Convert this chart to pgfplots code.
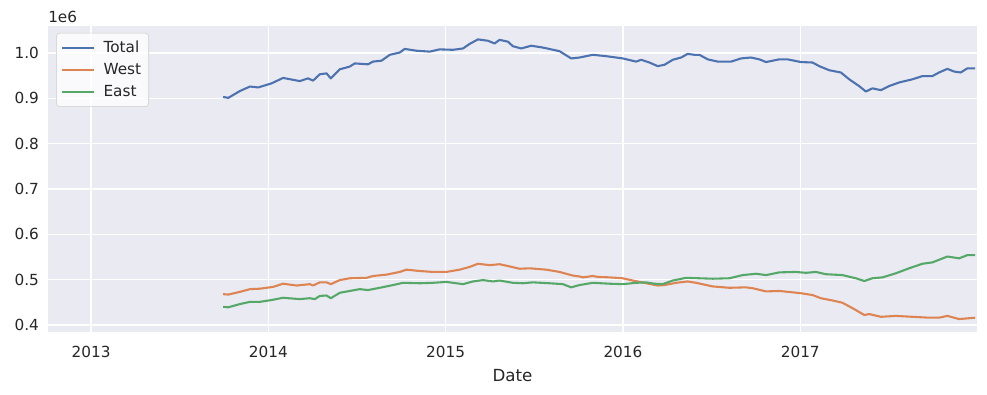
\documentclass[border=0pt]{standalone}
\usepackage{pgfplots}
\pgfplotsset{compat=1.18}
\usepackage{fontspec}
\setmainfont{DejaVu Sans}
\definecolor{sbblue}{HTML}{4C72B0}
\definecolor{sborange}{HTML}{DD8452}
\definecolor{sbgreen}{HTML}{55A868}
\definecolor{sbbg}{HTML}{EAEAF2}
\definecolor{sbtext}{HTML}{262626}
\begin{document}
\begin{tikzpicture}
\useasboundingbox (-34.56pt,-45.36pt) rectangle (676.1pt,239.0pt);
\begin{axis}[
  at={(0pt,0pt)}, anchor=south west,
  scale only axis,
  width=668.9pt, height=220.3pt,
  xmin=2012.757, xmax=2017.997,
  ymin=0.3846, ymax=1.0596,
  axis background/.style={fill=sbbg},
  axis line style={draw=none},
  major tick length=0pt,
  grid=major,
  major grid style={white, line width=1pt},
  xtick={2013,2014,2015,2016,2017},
  xticklabels={2013,2014,2015,2016,2017},
  ytick={0.4,0.5,0.6,0.7,0.8,0.9,1.0},
  yticklabels={0.4,0.5,0.6,0.7,0.8,0.9,1.0},
  /pgf/number format/assume math mode=true,
  tick label style={font=\fontsize{11}{13}\selectfont, text=sbtext},
  xticklabel style={yshift=-6.5pt},
  yticklabel style={xshift=-3pt},
  xlabel={Date},
  xlabel style={font=\fontsize{12}{14}\selectfont, text=sbtext, yshift=-2pt},
  legend cell align=left,
  legend image code/.code={\draw[#1, line width=1.5pt] (0pt,0pt) -- (23pt,0pt);},
  legend style={at={(0,1)}, anchor=north west, xshift=5.8pt, yshift=-5pt,
    fill=white, fill opacity=0.8, draw opacity=1, text opacity=1,
    draw=black!20, rounded corners=2.5pt, row sep=2.5pt, column sep=4pt, inner sep=3.5pt,
    font=\fontsize{11}{13}\selectfont, text=sbtext},
  every axis plot/.append style={line width=1.5pt, line join=round},
  clip=true,
]
\addplot[sbblue] coordinates {(2013.745,0.903)(2013.774,0.901)(2013.839,0.916)(2013.896,0.926)(2013.943,0.924)(2014.018,0.933)(2014.083,0.945)(2014.177,0.938)(2014.224,0.944)(2014.252,0.939)(2014.290,0.953)(2014.328,0.955)(2014.352,0.944)(2014.403,0.964)(2014.459,0.970)(2014.487,0.977)(2014.562,0.975)(2014.590,0.981)(2014.638,0.983)(2014.685,0.996)(2014.741,1.001)(2014.769,1.009)(2014.835,1.005)(2014.910,1.003)(2014.966,1.008)(2015.041,1.007)(2015.098,1.010)(2015.135,1.020)(2015.182,1.030)(2015.238,1.027)(2015.276,1.021)(2015.304,1.029)(2015.351,1.025)(2015.379,1.015)(2015.426,1.010)(2015.483,1.016)(2015.548,1.012)(2015.642,1.004)(2015.708,0.988)(2015.755,0.990)(2015.830,0.996)(2015.905,0.993)(2015.999,0.988)(2016.074,0.981)(2016.103,0.985)(2016.149,0.979)(2016.196,0.971)(2016.234,0.974)(2016.281,0.985)(2016.328,0.990)(2016.365,0.998)(2016.403,0.996)(2016.431,0.996)(2016.478,0.986)(2016.534,0.981)(2016.610,0.981)(2016.666,0.988)(2016.722,0.990)(2016.769,0.986)(2016.807,0.980)(2016.882,0.986)(2016.928,0.986)(2017.004,0.980)(2017.069,0.979)(2017.107,0.971)(2017.163,0.962)(2017.229,0.957)(2017.276,0.942)(2017.332,0.927)(2017.370,0.915)(2017.407,0.922)(2017.455,0.918)(2017.501,0.927)(2017.558,0.935)(2017.633,0.942)(2017.689,0.949)(2017.745,0.949)(2017.783,0.957)(2017.830,0.965)(2017.868,0.959)(2017.905,0.957)(2017.942,0.966)(2017.986,0.966)};
\addlegendentry{Total}
\addplot[sborange] coordinates {(2013.745,0.468)(2013.774,0.467)(2013.839,0.473)(2013.896,0.479)(2013.952,0.480)(2014.027,0.484)(2014.083,0.491)(2014.159,0.487)(2014.234,0.490)(2014.252,0.487)(2014.290,0.494)(2014.328,0.494)(2014.352,0.490)(2014.403,0.499)(2014.459,0.503)(2014.553,0.504)(2014.590,0.508)(2014.666,0.511)(2014.741,0.517)(2014.779,0.522)(2014.854,0.519)(2014.928,0.517)(2015.004,0.517)(2015.079,0.522)(2015.135,0.528)(2015.182,0.535)(2015.248,0.532)(2015.304,0.534)(2015.351,0.530)(2015.417,0.524)(2015.473,0.525)(2015.567,0.522)(2015.642,0.517)(2015.717,0.509)(2015.755,0.507)(2015.774,0.505)(2015.830,0.508)(2015.858,0.506)(2015.924,0.505)(2015.999,0.503)(2016.055,0.498)(2016.131,0.492)(2016.196,0.487)(2016.234,0.488)(2016.300,0.493)(2016.365,0.496)(2016.412,0.493)(2016.506,0.485)(2016.600,0.482)(2016.694,0.483)(2016.732,0.481)(2016.807,0.474)(2016.882,0.475)(2016.957,0.472)(2017.004,0.470)(2017.069,0.466)(2017.116,0.459)(2017.182,0.454)(2017.238,0.449)(2017.295,0.437)(2017.361,0.422)(2017.389,0.424)(2017.455,0.418)(2017.539,0.420)(2017.633,0.418)(2017.727,0.416)(2017.783,0.416)(2017.830,0.420)(2017.896,0.413)(2017.986,0.416)};
\addlegendentry{West}
\addplot[sbgreen] coordinates {(2013.745,0.440)(2013.774,0.439)(2013.839,0.446)(2013.896,0.451)(2013.952,0.451)(2014.018,0.455)(2014.083,0.460)(2014.177,0.457)(2014.234,0.459)(2014.262,0.457)(2014.290,0.464)(2014.328,0.465)(2014.352,0.459)(2014.403,0.471)(2014.459,0.475)(2014.515,0.479)(2014.562,0.477)(2014.628,0.482)(2014.703,0.488)(2014.759,0.493)(2014.854,0.492)(2014.928,0.493)(2015.004,0.495)(2015.098,0.490)(2015.154,0.496)(2015.210,0.499)(2015.267,0.496)(2015.304,0.498)(2015.379,0.493)(2015.435,0.492)(2015.492,0.494)(2015.586,0.492)(2015.661,0.490)(2015.708,0.483)(2015.755,0.488)(2015.830,0.493)(2015.924,0.491)(2015.999,0.490)(2016.074,0.493)(2016.131,0.494)(2016.177,0.491)(2016.224,0.490)(2016.281,0.498)(2016.356,0.504)(2016.431,0.503)(2016.506,0.502)(2016.600,0.503)(2016.675,0.510)(2016.751,0.513)(2016.807,0.510)(2016.882,0.516)(2016.975,0.517)(2017.032,0.515)(2017.088,0.517)(2017.144,0.512)(2017.238,0.510)(2017.314,0.503)(2017.361,0.497)(2017.407,0.503)(2017.464,0.505)(2017.539,0.514)(2017.614,0.525)(2017.689,0.535)(2017.745,0.538)(2017.830,0.551)(2017.896,0.547)(2017.942,0.554)(2017.986,0.554)};
\addlegendentry{East}
\end{axis}
\node[anchor=south west, inner sep=0pt, font=\fontsize{11}{13}\selectfont, text=sbtext] at (0pt,222.5pt) {1e6};
\end{tikzpicture}
\end{document}
